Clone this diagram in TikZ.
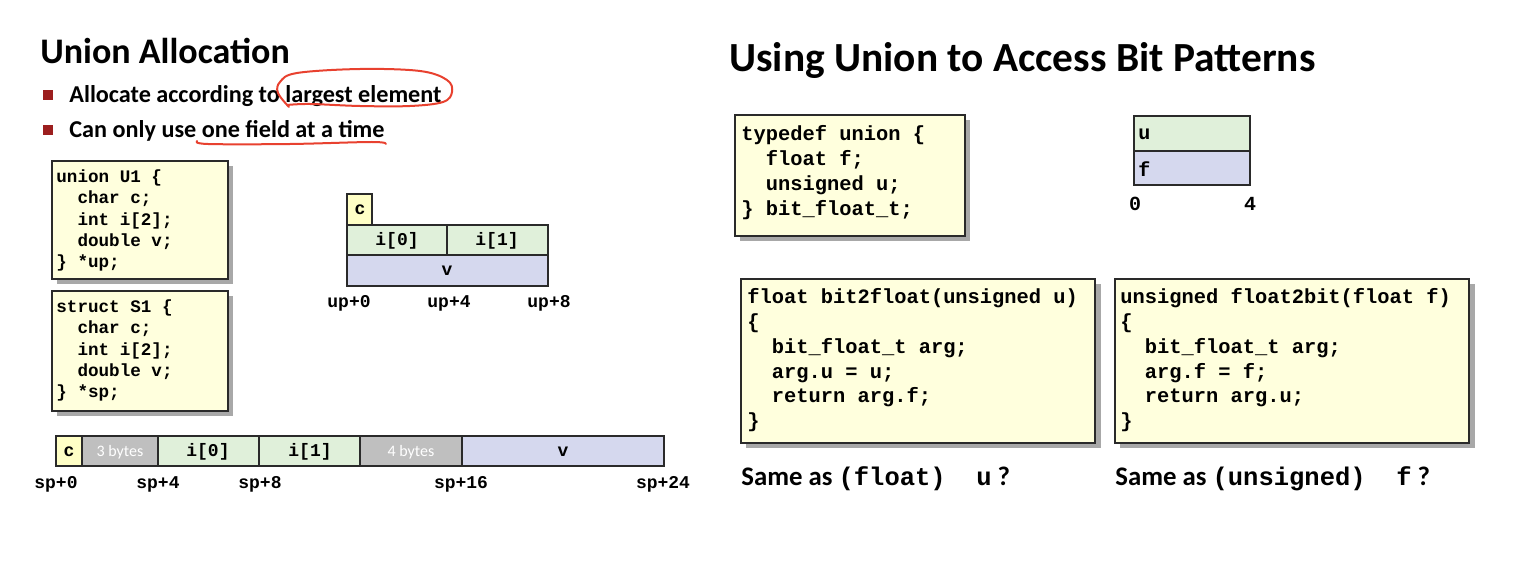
\documentclass[tikz,border=0pt]{standalone}
\usepackage{fontspec}
\setmainfont{Carlito}
\setmonofont{Liberation Mono}
\definecolor{codeyellow}{HTML}{FFFFDD}
\definecolor{shadowgray}{HTML}{A8A8A8}
\definecolor{cyellow}{HTML}{FFFFC6}
\definecolor{cgreen}{HTML}{E0F0DA}
\definecolor{clav}{HTML}{D5D8EE}
\definecolor{padgray}{HTML}{BFBFBF}
\definecolor{annred}{HTML}{E8412F}
\definecolor{bulletred}{HTML}{9C1E1E}
\definecolor{boxedge}{HTML}{2A2A2A}
\tikzset{
  shadowbox/.style={fill=shadowgray,draw=none},
  codebox/.style={fill=codeyellow,draw=boxedge,line width=0.75pt},
  cellbox/.style={draw=boxedge,line width=0.9pt},
  codesmall/.style={anchor=north west,inner sep=0pt,align=left,font=\fontsize{8.8}{10.6}\selectfont\ttfamily\bfseries},
  codebig/.style={anchor=north west,inner sep=0pt,align=left,font=\fontsize{10.2}{12.4}\selectfont\ttfamily\bfseries},
  celllabel/.style={inner sep=0pt,font=\fontsize{9}{10}\selectfont\ttfamily\bfseries},
  addrlabel/.style={inner sep=0pt,anchor=base,font=\fontsize{9}{10}\selectfont\ttfamily\bfseries},
  padlabel/.style={inner sep=0pt,text=white,font=\fontsize{8}{9}\selectfont},
  bullettext/.style={anchor=base west,inner sep=0pt,font=\fontsize{12.1}{14}\selectfont\bfseries},
  annot/.style={draw=annred,line width=1pt,line cap=round,line join=round},
}
\begin{document}
\begin{tikzpicture}[x=0.5pt,y=-0.5pt]
\useasboundingbox (0,0) rectangle (1524,572);

% ---------------- Left half ----------------
\node[anchor=base west,inner sep=0pt,font=\fontsize{18}{21}\selectfont\bfseries] (ltitle) at (40,64) {Union Allocation};

\fill[bulletred] (43,90) rectangle (53,100);
\fill[bulletred] (43,125) rectangle (53,135);
\node[bullettext] (b1) at (69,103) {Allocate according to largest element};
\node[bullettext] (b2) at (69,138) {Can only use one field at a time};

% red annotations
\draw[annot] plot[smooth,tension=0.6] coordinates {(289,107) (278,93) (280,82) (297,73) (360,69) (420,71) (447,80) (452,92) (443,102) (410,106) (360,106) (310,104) (287,105)};
\draw[annot] plot[smooth,tension=0.6] coordinates {(197,141) (208,144) (290,144) (372,142) (386,144)};

% union U1 code
\fill[shadowbox] (57,166) rectangle (233,284);
\draw[codebox] (52,161) rectangle (228,279);
\node[codesmall] (codeU) at (56,167.5) {\strut union U1 \{\\\ \ char c;\\\ \ int i[2];\\\ \ double v;\\\} *up;};

% struct S1 code
\fill[shadowbox] (57,296) rectangle (233,416);
\draw[codebox] (52,291) rectangle (228,411);
\node[codesmall] (codeS) at (56,297.5) {\strut struct S1 \{\\\ \ char c;\\\ \ int i[2];\\\ \ double v;\\\} *sp;};

% union layout
\draw[cellbox,fill=cyellow] (347,194) rectangle (372,225);
\draw[cellbox,fill=cgreen] (347,225) rectangle (447,255);
\draw[cellbox,fill=cgreen] (447,225) rectangle (548,255);
\draw[cellbox,fill=clav] (347,255) rectangle (548,286);
\node[celllabel] (uc) at (360,210) {c};
\node[celllabel] (ui0) at (397,241) {i[0]};
\node[celllabel] (ui1) at (497,241) {i[1]};
\node[celllabel] (uv) at (447,271) {v};
\node[addrlabel] (up0) at (349,307) {up+0};
\node[addrlabel] (up4) at (449,307) {up+4};
\node[addrlabel] (up8) at (549,307) {up+8};

% struct layout
\fill[cyellow] (56,436) rectangle (82,466);
\fill[padgray] (82,436) rectangle (158,466);
\fill[cgreen] (158,436) rectangle (360,466);
\fill[padgray] (360,436) rectangle (462,466);
\fill[clav] (462,436) rectangle (664,466);
\draw[cellbox] (56,436) rectangle (664,466);
\foreach \xx in {82,158,259,360,462} \draw[cellbox] (\xx,436) -- (\xx,466);
\node[celllabel] (sc) at (69,452) {c};
\node[padlabel] (s3) at (120,452) {3 bytes};
\node[celllabel] (si0) at (208,452) {i[0]};
\node[celllabel] (si1) at (310,452) {i[1]};
\node[padlabel] (s4) at (411,452) {4 bytes};
\node[celllabel] (sv) at (563,452) {v};
\node[addrlabel] (sp0) at (56,488) {sp+0};
\node[addrlabel] (sp4) at (158,488) {sp+4};
\node[addrlabel] (sp8) at (260,488) {sp+8};
\node[addrlabel] (sp16) at (461,488) {sp+16};
\node[addrlabel] (sp24) at (663,488) {sp+24};

% ---------------- Right half ----------------
\node[anchor=base west,inner sep=0pt,font=\fontsize{20.7}{24}\selectfont\bfseries] (rtitle) at (729,72) {Using Union to Access Bit Patterns};

% typedef code
\fill[shadowbox] (740,120) rectangle (970,241);
\draw[codebox] (735,115) rectangle (965,236);
\node[codebig] (codeT) at (741,123) {\strut typedef union \{\\\ \ float f;\\\ \ unsigned u;\\\} bit\_float\_t;};

% u/f layout
\draw[cellbox,fill=cgreen] (1134,116) rectangle (1250,151);
\draw[cellbox,fill=clav] (1134,151) rectangle (1250,185);
\node[celllabel,anchor=west,font=\fontsize{10}{11}\selectfont\ttfamily\bfseries] (lu) at (1138,134) {u};
\node[celllabel,anchor=west,font=\fontsize{10}{11}\selectfont\ttfamily\bfseries] (lf) at (1138,169) {f};
\node[addrlabel,font=\fontsize{10}{11}\selectfont\ttfamily\bfseries] (z0) at (1135,211) {0};
\node[addrlabel,font=\fontsize{10}{11}\selectfont\ttfamily\bfseries] (z4) at (1250,211) {4};

% bit2float code
\fill[shadowbox] (746,284) rectangle (1101,448);
\draw[codebox] (741,279) rectangle (1095,443);
\node[codebig] (codeB) at (747,286) {\strut float bit2float(unsigned u)\\\{\\\ \ bit\_float\_t arg;\\\ \ arg.u = u;\\\ \ return arg.f;\\\}};

% float2bit code
\fill[shadowbox] (1120,284) rectangle (1475,448);
\draw[codebox] (1115,279) rectangle (1469,443);
\node[codebig] (codeF) at (1120,286) {\strut unsigned float2bit(float f)\\\{\\\ \ bit\_float\_t arg;\\\ \ arg.f = f;\\\ \ return arg.u;\\\}};

% questions
\node[anchor=base west,inner sep=0pt,font=\fontsize{13.4}{15}\selectfont\bfseries] (q1) at (741,485) {Same as {\fontsize{12.75}{15}\selectfont\ttfamily\bfseries (float)\ \ u} ?};
\node[anchor=base west,inner sep=0pt,font=\fontsize{13.4}{15}\selectfont\bfseries] (q2) at (1115,485) {Same as {\fontsize{12.75}{15}\selectfont\ttfamily\bfseries (unsigned)\ \ f} ?};
\end{tikzpicture}
\end{document}
